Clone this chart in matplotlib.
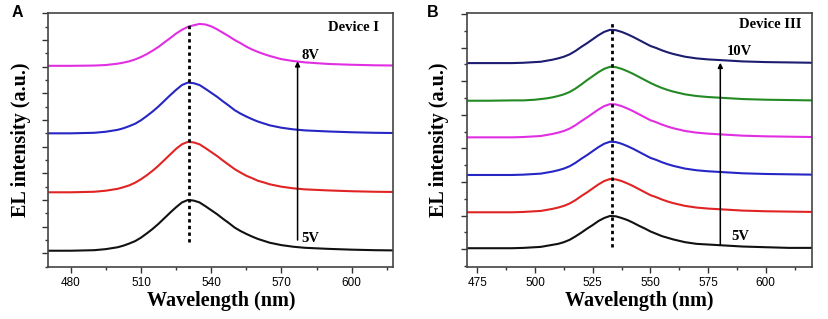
import matplotlib
matplotlib.use("Agg")
import matplotlib.pyplot as plt
from matplotlib.ticker import MultipleLocator, NullFormatter

# ---------------- data ----------------
wavelength = [470, 480, 490, 495, 500, 502.5, 505, 507.5, 510, 512.5, 515, 517.5, 520,
              522.5, 525, 527.5, 530, 532.5, 535, 537.5, 540, 542.5, 545, 547.5, 550,
              552.5, 555, 557.5, 560, 562.5, 565, 570, 575, 580, 590, 600, 610, 620]

# Panel A (Device I), stacked spectra 5V -> 8V
a_5v = [0.10, 0.10, 0.12, 0.16, 0.23, 0.29, 0.37, 0.46, 0.59, 0.75, 0.92, 1.11, 1.32,
        1.53, 1.73, 1.91, 2.00, 1.98, 1.91, 1.77, 1.62, 1.47, 1.30, 1.14, 0.97,
        0.84, 0.73, 0.63, 0.54, 0.47, 0.40, 0.31, 0.25, 0.21, 0.17, 0.14, 0.12, 0.11]
a_6v = [2.29, 2.29, 2.31, 2.35, 2.42, 2.48, 2.55, 2.65, 2.78, 2.93, 3.10, 3.29, 3.50,
        3.71, 3.92, 4.09, 4.18, 4.16, 4.09, 3.95, 3.80, 3.65, 3.48, 3.32, 3.16,
        3.03, 2.91, 2.82, 2.72, 2.66, 2.59, 2.50, 2.44, 2.40, 2.36, 2.33, 2.31, 2.30]
a_7v = [4.50, 4.50, 4.52, 4.56, 4.63, 4.69, 4.77, 4.86, 4.99, 5.15, 5.32, 5.51, 5.72,
        5.93, 6.13, 6.31, 6.40, 6.38, 6.31, 6.17, 6.02, 5.87, 5.70, 5.54, 5.37,
        5.24, 5.13, 5.03, 4.94, 4.87, 4.80, 4.71, 4.65, 4.61, 4.57, 4.54, 4.52, 4.51]
a_8v = [7.03, 7.03, 7.04, 7.06, 7.11, 7.15, 7.20, 7.27, 7.36, 7.47, 7.60, 7.74, 7.91,
        8.07, 8.24, 8.38, 8.49, 8.55, 8.60, 8.58, 8.51, 8.40, 8.27, 8.14, 8.00,
        7.88, 7.75, 7.64, 7.55, 7.47, 7.40, 7.28, 7.21, 7.16, 7.10, 7.07, 7.05, 7.04]

# Panel B (Device III), stacked spectra 5V -> 10V
b_5v = [0.03, 0.03, 0.03, 0.04, 0.06, 0.07, 0.10, 0.13, 0.16, 0.21, 0.28, 0.38, 0.49,
        0.61, 0.72, 0.84, 0.93, 0.99, 0.98, 0.93, 0.87, 0.79, 0.70, 0.62, 0.53,
        0.46, 0.39, 0.34, 0.29, 0.25, 0.21, 0.16, 0.14, 0.12, 0.08, 0.06, 0.04, 0.04]
b_6v = [1.10, 1.10, 1.10, 1.11, 1.13, 1.14, 1.17, 1.20, 1.24, 1.29, 1.36, 1.46, 1.58,
        1.69, 1.81, 1.93, 2.03, 2.09, 2.08, 2.03, 1.96, 1.88, 1.79, 1.70, 1.61,
        1.55, 1.48, 1.42, 1.37, 1.33, 1.29, 1.24, 1.21, 1.19, 1.15, 1.13, 1.12, 1.11]
b_7v = [2.21, 2.21, 2.21, 2.22, 2.24, 2.25, 2.28, 2.31, 2.35, 2.40, 2.47, 2.57, 2.69,
        2.80, 2.92, 3.04, 3.14, 3.20, 3.19, 3.14, 3.07, 2.99, 2.90, 2.81, 2.72,
        2.66, 2.59, 2.53, 2.48, 2.44, 2.40, 2.35, 2.32, 2.30, 2.26, 2.24, 2.23, 2.22]
b_8v = [3.33, 3.33, 3.33, 3.34, 3.36, 3.37, 3.40, 3.43, 3.47, 3.52, 3.59, 3.69, 3.81,
        3.92, 4.04, 4.16, 4.26, 4.32, 4.31, 4.26, 4.19, 4.11, 4.02, 3.93, 3.84,
        3.78, 3.71, 3.65, 3.60, 3.56, 3.52, 3.47, 3.44, 3.42, 3.38, 3.36, 3.35, 3.34]
b_9v = [4.42, 4.42, 4.43, 4.43, 4.45, 4.47, 4.49, 4.52, 4.56, 4.61, 4.68, 4.78, 4.90,
        5.03, 5.15, 5.27, 5.37, 5.43, 5.42, 5.37, 5.30, 5.22, 5.13, 5.04, 4.95,
        4.87, 4.80, 4.74, 4.69, 4.65, 4.61, 4.56, 4.53, 4.51, 4.47, 4.45, 4.44, 4.43]
b_10v = [5.54, 5.54, 5.54, 5.55, 5.57, 5.58, 5.61, 5.64, 5.68, 5.73, 5.80, 5.90, 6.02,
         6.13, 6.25, 6.37, 6.47, 6.53, 6.52, 6.47, 6.40, 6.32, 6.23, 6.14, 6.05,
         5.99, 5.92, 5.86, 5.81, 5.77, 5.73, 5.68, 5.65, 5.63, 5.59, 5.57, 5.56, 5.55]

peak_a = 530.4
peak_b = 533.4
xticks_a = [480, 510, 540, 570, 600]
xticks_b = [475, 500, 525, 550, 575, 600]

# ---------------- styling ----------------
col_black = "#111111"
col_red = "#e02424"
col_blue = "#2626c4"
col_mag = "#e22ee2"
col_green = "#238a23"
col_navy = "#1c1c70"

serif = ["Liberation Serif", "DejaVu Serif"]
sans = ["Liberation Sans", "DejaVu Sans"]

fig = plt.figure(figsize=(8.29, 3.19), dpi=100)
axA = fig.add_axes([48.3 / 829, 52 / 319, 345 / 829, 254 / 319])
axB = fig.add_axes([466.7 / 829, 52.3 / 319, 345 / 829, 254 / 319])


def style_axes(ax, xlim, ylim, xticks, xminor, ymajor):
    ax.set_xlim(*xlim)
    ax.set_ylim(*ylim)
    ax.set_xticks(xticks)
    ax.set_xticklabels([str(t) for t in xticks], fontfamily=sans, fontsize=8.5)
    ax.xaxis.set_minor_locator(MultipleLocator(xminor))
    ax.yaxis.set_major_locator(MultipleLocator(ymajor))
    ax.yaxis.set_minor_locator(MultipleLocator(ymajor / 2))
    ax.yaxis.set_major_formatter(NullFormatter())
    ax.tick_params(axis="both", which="major", direction="out", length=4.5,
                   width=1.0, color="#333333", pad=3)
    ax.tick_params(axis="both", which="minor", direction="out", length=2.5,
                   width=1.0, color="#333333")
    for s in ax.spines.values():
        s.set_linewidth(1.2)
        s.set_color("#444444")
    ax.set_xlabel("Wavelength (nm)", fontfamily=serif, fontweight="bold",
                  fontsize=14.5, labelpad=1)
    ax.set_ylabel("EL intensity (a.u.)", fontfamily=serif, fontweight="bold",
                  fontsize=14.5, labelpad=5)


# Panel A
for ys, c in zip([a_5v, a_6v, a_7v, a_8v], [col_black, col_red, col_blue, col_mag]):
    axA.plot(wavelength, ys, color=c, lw=1.5, solid_joinstyle="round")
axA.plot([peak_a, peak_a], [0.44, 8.56], color="black", lw=2.0, ls=(0, (1.2, 1.2)))
axA.annotate("", xy=(576.9, 7.2), xytext=(576.9, 0.5),
             arrowprops=dict(arrowstyle="-|>", color="black", lw=1.1,
                             mutation_scale=7, shrinkA=0, shrinkB=0))
axA.text(578.5, 7.42, "8V", fontfamily=serif, fontweight="bold", fontsize=10.5,
         ha="left", va="center")
axA.text(578.5, 0.55, "5V", fontfamily=serif, fontweight="bold", fontsize=10.5,
         ha="left", va="center")
axA.text(611.8, 8.47, "Device I", fontfamily=serif, fontweight="bold", fontsize=10.5,
         ha="right", va="center")
style_axes(axA, (470.4, 617.8), (-0.51, 9.01), xticks_a, 15, 1.0)

# Panel B
for ys, c in zip([b_5v, b_6v, b_7v, b_8v, b_9v, b_10v],
                 [col_black, col_red, col_blue, col_mag, col_green, col_navy]):
    axB.plot(wavelength, ys, color=c, lw=1.5, solid_joinstyle="round")
axB.plot([peak_b, peak_b], [0.06, 6.74], color="black", lw=2.0, ls=(0, (1.2, 1.2)))
axB.annotate("", xy=(580.3, 5.55), xytext=(580.3, 0.13),
             arrowprops=dict(arrowstyle="-|>", color="black", lw=1.1,
                             mutation_scale=7, shrinkA=0, shrinkB=0))
axB.text(583.0, 5.88, "10V", fontfamily=serif, fontweight="bold", fontsize=10.5,
         ha="left", va="center")
axB.text(585.0, 0.38, "5V", fontfamily=serif, fontweight="bold", fontsize=10.5,
         ha="left", va="center")
axB.text(615.5, 6.68, "Device III", fontfamily=serif, fontweight="bold", fontsize=10.5,
         ha="right", va="center")
style_axes(axB, (470.4, 619.9), (-0.52, 7.04), xticks_b, 12.5, 1.0)

fig.text(12 / 829, 1 - 12.5 / 319, "A", fontfamily=sans, fontweight="bold",
         fontsize=11.5, ha="left", va="center")
fig.text(427 / 829, 1 - 12.5 / 319, "B", fontfamily=sans, fontweight="bold",
         fontsize=11.5, ha="left", va="center")

fig.savefig("out.png", dpi=100)
